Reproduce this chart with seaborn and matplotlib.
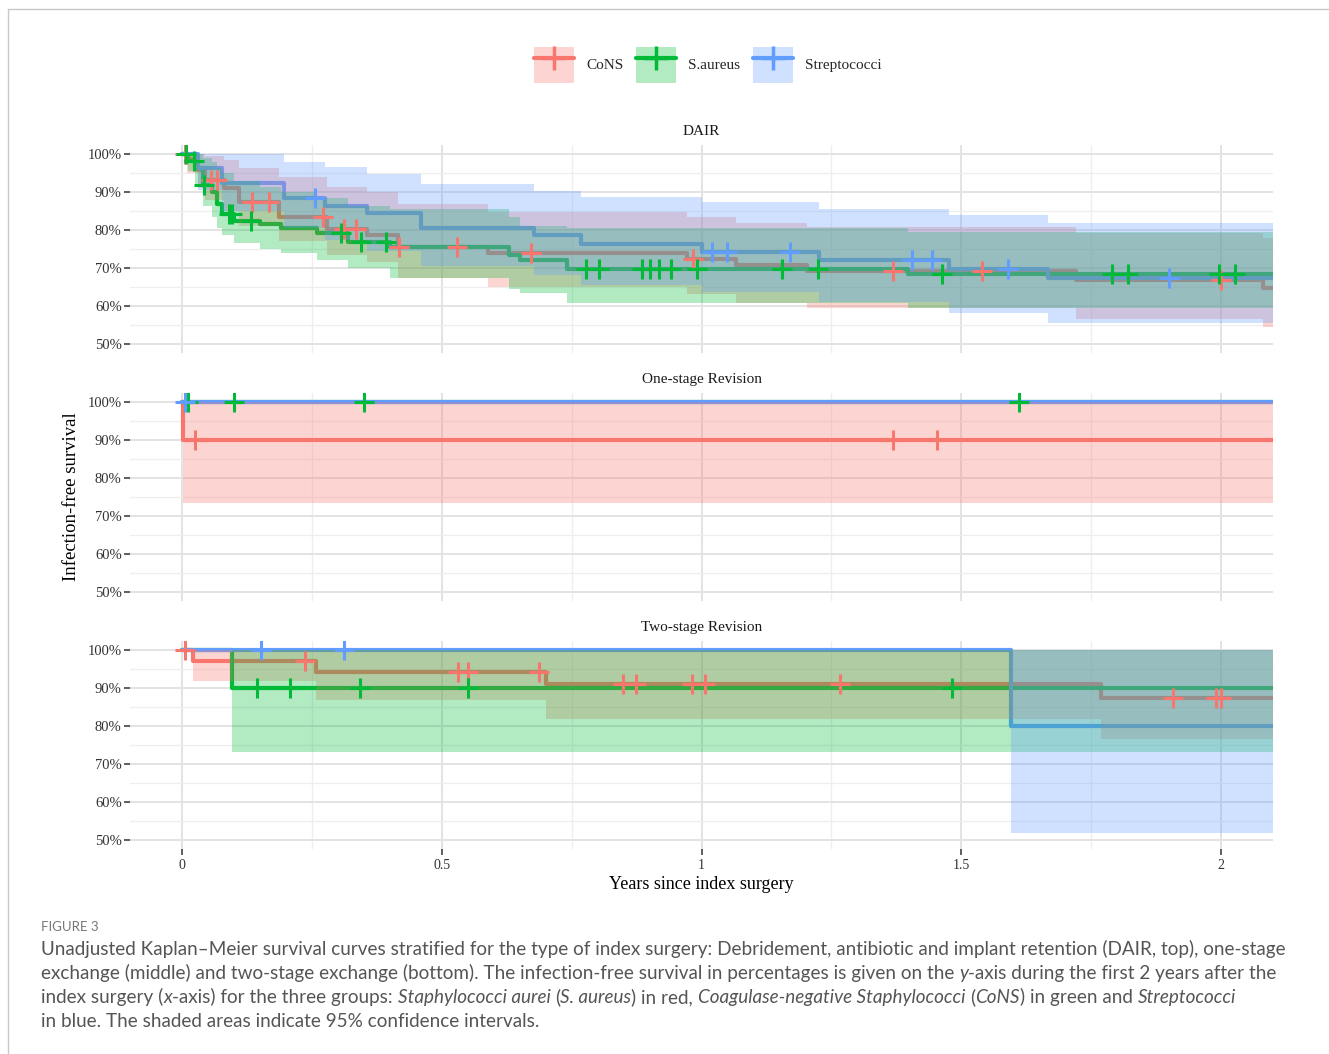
import numpy as np
import pandas as pd
import matplotlib
matplotlib.use("Agg")
import matplotlib.pyplot as plt
import seaborn as sns
from matplotlib.patches import Patch
from matplotlib.lines import Line2D

# ---- data (years, survival %) ----
T_END = 2.1
groups = ["CoNS", "S.aureus", "Streptococci"]
colors = ["#F8766D", "#00BA38", "#619CFF"]

# DAIR
dair_cons_t = [0, 0.01, 0.03, 0.045, 0.08, 0.11, 0.187, 0.28, 0.356, 0.415, 0.59, 0.973, 1.067, 1.204, 1.72, 2.08]
dair_cons_s = [100, 98.7, 96.0, 93.2, 91.0, 87.5, 83.5, 80.2, 78.7, 75.5, 74.0, 72.4, 70.8, 69.2, 66.8, 64.7]
dair_cons_hi = [100, 100, 100, 99.5, 98.5, 96.5, 94.0, 91.5, 90.0, 87.0, 84.7, 83.4, 82.0, 80.8, 79.2, 78.0]
dair_cons_lo = [100, 95.0, 91.0, 88.0, 85.0, 81.0, 77.0, 73.5, 71.5, 67.4, 65.0, 63.0, 60.8, 59.3, 56.5, 54.5]
dair_cons_cens = [0.005, 0.056, 0.067, 0.135, 0.168, 0.272, 0.312, 0.335, 0.418, 0.53, 0.672, 0.983, 1.368, 1.54, 2.0]

dair_sa_t = [0, 0.012, 0.025, 0.04, 0.058, 0.068, 0.078, 0.1, 0.15, 0.19, 0.26, 0.32, 0.40, 0.63, 0.65, 0.742, 1.397]
dair_sa_s = [100, 98.2, 96.3, 92.0, 90.0, 87.0, 84.2, 82.3, 81.5, 80.6, 79.2, 76.8, 75.5, 73.5, 72.1, 69.6, 68.3]
dair_sa_hi = [100, 100, 100, 99.0, 98.0, 96.5, 95.0, 93.0, 91.5, 90.0, 88.5, 86.5, 85.5, 83.4, 81.0, 80.5, 79.5]
dair_sa_lo = [100, 95.5, 92.0, 86.5, 83.5, 80.5, 78.7, 76.5, 75.0, 74.0, 72.0, 70.0, 67.4, 64.5, 63.4, 60.8, 59.5]
dair_sa_cens = [0.008, 0.023, 0.042, 0.09, 0.097, 0.133, 0.306, 0.345, 0.393, 0.778, 0.803, 0.886, 0.9,
                0.919, 0.942, 0.992, 1.154, 1.224, 1.462, 1.79, 1.82, 1.996, 2.027]

dair_strep_t = [0, 0.03, 0.077, 0.197, 0.275, 0.356, 0.46, 0.678, 0.769, 1.0, 1.227, 1.476, 1.667]
dair_strep_s = [100, 96.3, 92.4, 88.4, 86.3, 84.5, 80.5, 78.7, 76.3, 74.2, 72.1, 69.7, 67.4]
dair_strep_hi = [100, 100, 100, 98.0, 96.6, 94.7, 92.1, 90.3, 88.7, 87.4, 85.5, 84.0, 81.8]
dair_strep_lo = [100, 90.5, 85.0, 80.5, 77.5, 74.5, 70.5, 68.0, 65.5, 63.5, 61.0, 58.0, 55.5]
dair_strep_cens = [0.256, 1.021, 1.05, 1.17, 1.405, 1.443, 1.59, 1.90]

# One-stage revision
one_cons_t = [0, 0.002]
one_cons_s = [100, 90]
one_cons_hi = [100, 100]
one_cons_lo = [100, 73.3]
one_cons_cens = [0.025, 1.368, 1.453]

one_sa_t = [0]
one_sa_s = [100]
one_sa_hi = [100]
one_sa_lo = [100]
one_sa_cens = [0.012, 0.1, 0.35, 1.611]

one_strep_t = [0]
one_strep_s = [100]
one_strep_hi = [100]
one_strep_lo = [100]
one_strep_cens = [0.006]

# Two-stage revision
two_cons_t = [0, 0.022, 0.258, 0.701, 1.768]
two_cons_s = [100, 97.2, 94.3, 91.2, 87.3]
two_cons_hi = [100, 100, 100, 100, 100]
two_cons_lo = [100, 91.8, 86.8, 82.0, 76.5]
two_cons_cens = [0.005, 0.237, 0.532, 0.55, 0.688, 0.849, 0.874, 0.982, 1.007, 1.266, 1.907, 1.99, 2.0]

two_sa_t = [0, 0.096]
two_sa_s = [100, 90]
two_sa_hi = [100, 100]
two_sa_lo = [100, 73.2]
two_sa_cens = [0.145, 0.207, 0.343, 0.551, 1.482]

two_strep_t = [0, 1.595]
two_strep_s = [100, 80]
two_strep_hi = [100, 100]
two_strep_lo = [100, 51.8]
two_strep_cens = [0.152, 0.312]

panels = [
    ("DAIR", [(dair_cons_t, dair_cons_s, dair_cons_lo, dair_cons_hi, dair_cons_cens),
              (dair_sa_t, dair_sa_s, dair_sa_lo, dair_sa_hi, dair_sa_cens),
              (dair_strep_t, dair_strep_s, dair_strep_lo, dair_strep_hi, dair_strep_cens)]),
    ("One-stage Revision", [(one_cons_t, one_cons_s, one_cons_lo, one_cons_hi, one_cons_cens),
                            (one_sa_t, one_sa_s, one_sa_lo, one_sa_hi, one_sa_cens),
                            (one_strep_t, one_strep_s, one_strep_lo, one_strep_hi, one_strep_cens)]),
    ("Two-stage Revision", [(two_cons_t, two_cons_s, two_cons_lo, two_cons_hi, two_cons_cens),
                            (two_sa_t, two_sa_s, two_sa_lo, two_sa_hi, two_sa_cens),
                            (two_strep_t, two_strep_s, two_strep_lo, two_strep_hi, two_strep_cens)]),
]

# ---- style ----
sns.set_theme(style="whitegrid")
plt.rcParams["font.family"] = ["Liberation Serif", "DejaVu Serif"]

W, H = 1329, 1054
fig = plt.figure(figsize=(W / 100, H / 100), dpi=100)
fig.patch.set_facecolor("white")

panel_tops = [145, 393, 641]
ph = 208


def extend(t, *arrs):
    t2 = list(t) + [T_END]
    return [t2] + [list(a) + [a[-1]] for a in arrs]


axes = []
for i, (title, series) in enumerate(panels):
    ax = fig.add_axes([130 / W, 1 - (panel_tops[i] + ph) / H, 1143 / W, ph / H])
    axes.append(ax)
    ax.set_facecolor("white")
    # step curves (beneath the ribbons, as in the original)
    for (t, s, lo, hi, cens), c in zip(series, colors):
        tt, ss, ll, hh = extend(t, s, lo, hi)
        df = pd.DataFrame({"time": tt, "surv": ss})
        sns.lineplot(data=df, x="time", y="surv", ax=ax, color=c, lw=3,
                     drawstyle="steps-post", estimator=None, sort=False, zorder=2)
    for (t, s, lo, hi, cens), c in zip(series, colors):
        tt, ss, ll, hh = extend(t, s, lo, hi)
        ax.fill_between(tt, ll, hh, step="post", color=c, alpha=0.3, lw=0, zorder=3)
    for (t, s, lo, hi, cens), c in zip(series, colors):
        idx = np.searchsorted(t, cens, side="right") - 1
        cy = np.array(s)[idx]
        sns.scatterplot(x=cens, y=cy, ax=ax, marker="+", s=210, linewidth=2.2,
                        color=c, zorder=4, legend=False)

    ax.set_xlim(-0.1, 2.1)
    ax.set_ylim(47.5, 102.5)
    ax.set_yticks(np.arange(50, 101, 10))
    ax.set_yticklabels([f"{v}%" for v in range(50, 101, 10)])
    ax.set_yticks(np.arange(55, 100, 10), minor=True)
    ax.set_xticks([0, 0.5, 1, 1.5, 2])
    ax.set_xticklabels(["0", "0.5", "1", "1.5", "2"])
    ax.set_xticks([0.25, 0.75, 1.25, 1.75], minor=True)
    ax.grid(which="major", color="#E3E3E3", lw=1.4, zorder=0)
    ax.grid(which="minor", color="#EEEEEE", lw=0.9, zorder=0)
    ax.set_axisbelow(True)
    for sp in ax.spines.values():
        sp.set_visible(False)
    ax.tick_params(axis="y", which="major", left=True, length=4, width=1.1, color="#333333",
                   labelsize=10.5, pad=2, labelcolor="#333333")
    ax.tick_params(axis="y", which="minor", left=False)
    ax.tick_params(axis="x", which="minor", bottom=False)
    last = i == len(panels) - 1
    ax.tick_params(axis="x", which="major", bottom=last, labelbottom=last, length=4, width=1.1,
                   color="#333333", labelsize=10, pad=3, labelcolor="#333333")
    ax.set_xlabel("")
    ax.set_ylabel("")
    ax.set_title(title, fontsize=11, pad=7, color="#1a1a1a")

axes[-1].set_xlabel("Years since index surgery", fontsize=13, labelpad=3, color="black")
fig.text(71 / W, 1 - 497 / H, "Infection-free survival", rotation=90, ha="center", va="center",
         fontsize=13.5, color="black")

# legend
handles = [(Patch(facecolor=c, alpha=0.3, lw=0),
            Line2D([], [], color=c, lw=3, marker="+", ms=17, mew=2.5)) for c in colors]
fig.legend(handles, groups, loc="center", bbox_to_anchor=(708 / W, 1 - 65 / H), ncol=3,
           frameon=False, handlelength=2.6, handleheight=3.3, handletextpad=0.8,
           columnspacing=0.85, fontsize=11)

# frame lines
fig.add_artist(Line2D([8 / W, 1], [1 - 9 / H, 1 - 9 / H], transform=fig.transFigure,
                      color="#C8C8C8", lw=1))
fig.add_artist(Line2D([8 / W, 8 / W], [0, 1 - 9 / H], transform=fig.transFigure,
                      color="#C8C8C8", lw=1))

# caption
rend = fig.canvas.get_renderer()
cap_family = ["Lato", "DejaVu Sans"]
cap_color = "#555555"


def text_w(s, size, style="normal"):
    t = fig.text(0, 0, s, fontsize=size, family=cap_family, style=style)
    w = t.get_window_extent(rend).width
    t.remove()
    return w


line1 = ("Unadjusted Kaplan\u2013Meier survival curves stratified for the type of index surgery: "
         "Debridement, antibiotic and implant retention (DAIR, top), one-stage")
cap_size = 12 * 1237 / text_w(line1, 12)
space_w = text_w("n n", cap_size) - text_w("nn", cap_size)


def rich_line(x_px, y_px, parts):
    x = x_px
    for txt, ital in parts:
        lead = len(txt) - len(txt.lstrip(" "))
        trail = len(txt) - len(txt.rstrip(" "))
        core = txt.strip(" ")
        x += lead * space_w
        t = fig.text(x / W, 1 - y_px / H, core, fontsize=cap_size, family=cap_family,
                     style="italic" if ital else "normal", color=cap_color, va="baseline")
        x += t.get_window_extent(rend).width
        x += trail * space_w


fig.text(41 / W, 1 - 931 / H, "FIGURE 3", fontsize=9.5, family=cap_family, color="#777777",
         va="baseline")
rich_line(41, 955, [(line1, False)])
rich_line(41, 979, [("exchange (middle) and two-stage exchange (bottom). The infection-free survival in "
                     "percentages is given on the ", False), ("y", True),
                    ("-axis during the first 2 years after the", False)])
rich_line(41, 1003, [("index surgery (", False), ("x", True), ("-axis) for the three groups: ", False),
                     ("Staphylococci aurei", True), (" (", False), ("S. aureus", True),
                     (") in red, ", False), ("Coagulase-negative Staphylococci", True), (" (", False),
                     ("CoNS", True), (") in green and ", False), ("Streptococci", True)])
rich_line(41, 1027, [("in blue. The shaded areas indicate 95% confidence intervals.", False)])

fig.savefig("out.png", dpi=100, facecolor="white")
